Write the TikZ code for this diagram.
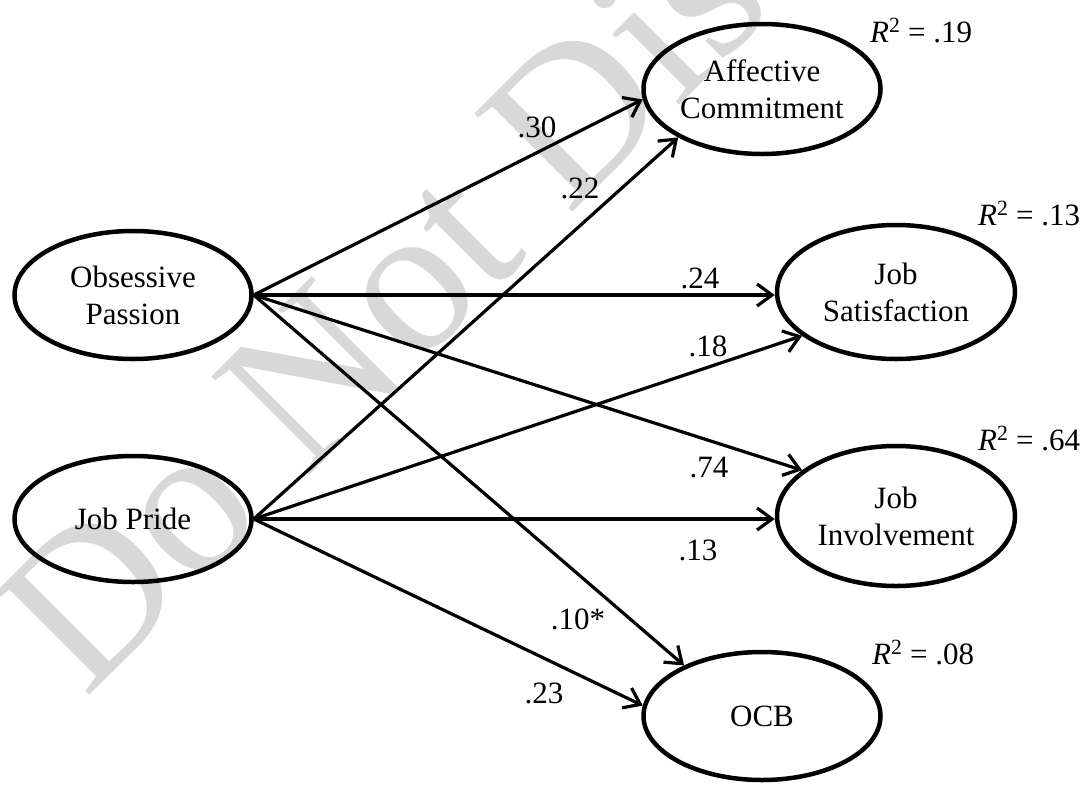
\documentclass[tikz,border=0pt]{standalone}
\usepackage{fontspec}
\setmainfont{Liberation Serif}
\usetikzlibrary{shapes.geometric,arrows.meta}
\definecolor{wmgray}{RGB}{216,216,216}
\begin{document}
\begin{tikzpicture}[x=1pt,y=-1pt,
  lat/.style={draw, ellipse, line width=4.5pt, inner sep=0pt, minimum width=237pt, minimum height=128pt, align=center, font=\fontsize{31}{37}\selectfont},
  patharr/.style={line width=3.2pt, -{Straight Barb[length=15pt,width=22pt,line width=3.2pt]}},
  coef/.style={inner sep=0pt, font=\fontsize{31}{37}\selectfont},
  rsq/.style={inner sep=0pt, anchor=base west, font=\fontsize{31}{37}\selectfont},
  wmark/.style={inner sep=0pt, anchor=base west, rotate=45, text=wmgray, font=\fontsize{212}{212}\selectfont}]
\useasboundingbox (0,0) rectangle (1082,785);
\begin{scope}
  \clip (0,0) rectangle (1082,785);
  \node[wmark] (wm) at (85,700) {Do Not Dis};
\end{scope}
% latent variables
\node[lat] (OP) at (133,295) {Obsessive\\Passion};
\node[lat, minimum height=126pt] (JP) at (133,519) {Job Pride};
\node[lat, minimum height=130pt] (AC) at (762,89) {Affective\\Commitment};
\node[lat, minimum width=238pt, minimum height=134pt] (JS) at (896,292) {Job\\Satisfaction};
\node[lat, minimum width=238pt, minimum height=140pt] (JI) at (896,516) {Job\\Involvement};
\node[lat] (OCB) at (762,716) {OCB};
% paths
\draw[patharr] (OP.east) -- (AC.185);
\draw[patharr] (JP.east) -- (AC.210);
\draw[patharr] (OP.east) -- (OP.east -| JS.west);
\draw[patharr] (JP.east) -- (JS.205);
\draw[patharr] (OP.east) -- (JI.154);
\draw[patharr] (JP.east) -- (JP.east -| JI.west);
\draw[patharr] (OP.east) -- (OCB.147);
\draw[patharr] (JP.east) -- (OCB.175);
% coefficients
\node[coef] (c1) at (537,127) {.30};
\node[coef] (c2) at (580,188) {.22};
\node[coef] (c3) at (700,278) {.24};
\node[coef] (c4) at (708,346) {.18};
\node[coef] (c5) at (709,468) {.74};
\node[coef] (c6) at (698,550) {.13};
\node[coef] (c7) at (578,619) {.10*};
\node[coef] (c8) at (544,693) {.23};
% R squared
\node[rsq] (r1) at (870,42) {\textit{R}\textsuperscript{2} = .19};
\node[rsq] (r2) at (978,225) {\textit{R}\textsuperscript{2} = .13};
\node[rsq] (r3) at (978,450) {\textit{R}\textsuperscript{2} = .64};
\node[rsq] (r4) at (872,664) {\textit{R}\textsuperscript{2} = .08};
\end{tikzpicture}
\end{document}
